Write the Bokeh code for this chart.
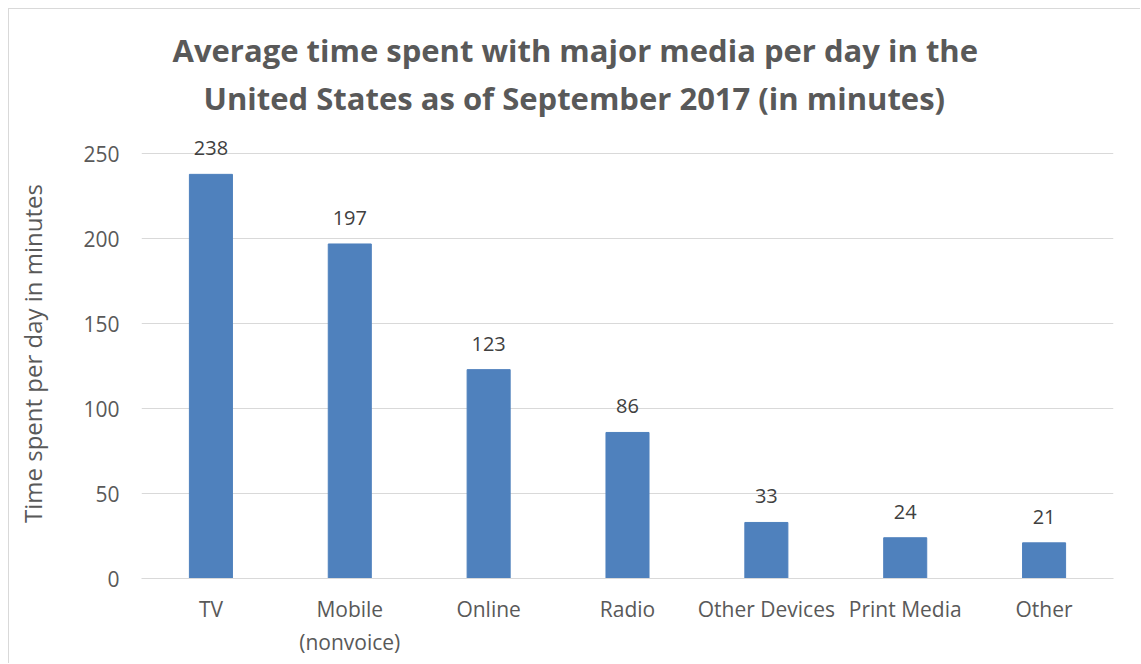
from bokeh.plotting import figure
from bokeh.models import FactorRange, Range1d, FixedTicker, Title, ColumnDataSource
from bokeh.core.properties import value
from bokeh.embed import file_html
from bokeh.resources import INLINE

categories = ["TV", "Mobile\n(nonvoice)", "Online", "Radio", "Other Devices", "Print Media", "Other"]
minutes = [238, 197, 123, 86, 33, 24, 21]
y_ticks = [0, 50, 100, 150, 200, 250]
title_line1 = "Average time spent with major media per day in the"
title_line2 = "United States as of September 2017 (in minutes)"
y_label = "Time spent per day in minutes"

FONT = "Open Sans"
GREY = "#595959"

source = ColumnDataSource(dict(cat=categories, val=minutes, lbl=[str(v) for v in minutes]))

p = figure(
    x_range=FactorRange(factors=categories),
    y_range=Range1d(0, 265),
    width=1132, height=655,
    output_backend="svg", toolbar_location=None,
    min_border_left=132, min_border_right=28, min_border_top=119, min_border_bottom=86,
)
p.styles = {"border-left": "1px solid #d9d9d9", "border-top": "1px solid #d9d9d9",
            "margin-left": "8px", "margin-top": "8px"}
p.outline_line_color = None
p.background_fill_color = "white"
p.border_fill_color = "white"

p.vbar(x="cat", top="val", width=0.31, source=source, fill_color="#4f81bd", line_color="#4f81bd")
p.text(x="cat", y="val", text="lbl", source=source, y_offset=-26,
       text_align="center", text_baseline="alphabetic",
       text_font=value(FONT), text_font_size="20px", text_color="#404040")

t2 = Title(text=title_line2, align="left", offset=62, standoff=19,
           text_font=FONT, text_font_size="31px", text_font_style="bold", text_color=GREY)
t1 = Title(text=title_line1, align="left", offset=31, standoff=-10,
           text_font=FONT, text_font_size="31px", text_font_style="bold", text_color=GREY)
p.add_layout(t2, "above")
p.add_layout(t1, "above")

p.xgrid.grid_line_color = None
p.ygrid.grid_line_color = "#d9d9d9"
p.ygrid.grid_line_width = 1
p.yaxis.ticker = FixedTicker(ticks=y_ticks)

for ax in (p.xaxis, p.yaxis):
    ax.major_tick_line_color = None
    ax.minor_tick_line_color = None
    ax.major_label_text_font = FONT
    ax.major_label_text_font_size = "21px"
    ax.major_label_text_color = GREY
p.yaxis.axis_line_color = None
p.xaxis.axis_line_color = "#d9d9d9"
p.yaxis.major_label_standoff = 16
p.xaxis.major_label_standoff = 10
p.yaxis.axis_label = y_label
p.yaxis.axis_label_text_font = FONT
p.yaxis.axis_label_text_font_size = "24px"
p.yaxis.axis_label_text_font_style = "normal"
p.yaxis.axis_label_text_color = GREY
p.yaxis.axis_label_standoff = 31

open("out.html", "w").write(file_html(p, INLINE))
